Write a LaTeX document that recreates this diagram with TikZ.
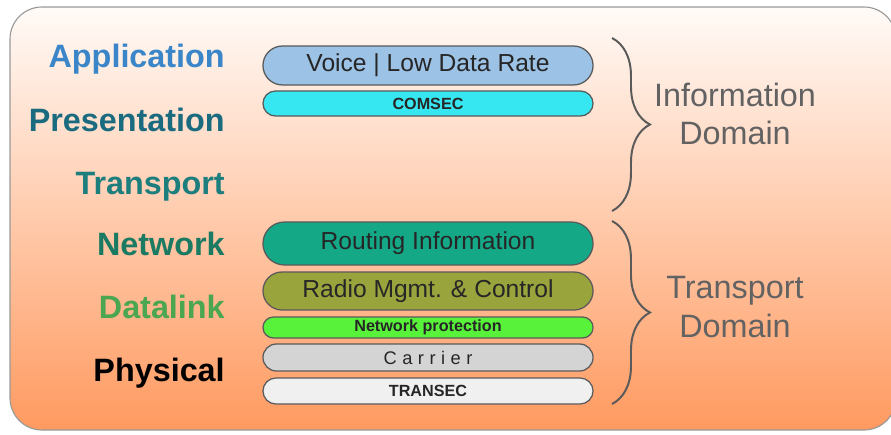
\documentclass[tikz,border=0pt]{standalone}
\usepackage{fontspec}
\setmainfont{Liberation Sans}
\usepackage{xcolor}
\usetikzlibrary{shapes.misc, decorations.pathreplacing, positioning}

\definecolor{bgtop}{HTML}{FFFBF8}
\definecolor{bgbot}{HTML}{FF9A60}
\definecolor{appblue}{HTML}{3A86C8}
\definecolor{presteal}{HTML}{1B6B80}
\definecolor{transteal}{HTML}{1D7E7E}
\definecolor{netgreen}{HTML}{1A7A62}
\definecolor{dlgreen}{HTML}{4AA650}
\definecolor{voicefill}{HTML}{9CC2E5}
\definecolor{comsecfill}{HTML}{36E6F0}
\definecolor{routefill}{HTML}{14A887}
\definecolor{radiofill}{HTML}{9AA43C}
\definecolor{protfill}{HTML}{58F23A}
\definecolor{carrierfill}{HTML}{D4D4D4}
\definecolor{transecfill}{HTML}{F0F0F0}
\definecolor{edgegray}{HTML}{5A5A5A}
\definecolor{domaingray}{HTML}{626262}

\tikzset{
  osilabel/.style={anchor=base east, inner sep=0pt, font=\fontsize{23}{27}\selectfont\bfseries},
  layerbox/.style={rounded rectangle, draw=edgegray, line width=0.9pt, minimum width=8.25cm,
    inner sep=0pt, text=black!85},
  bigtext/.style={font=\fontsize{17.5}{20}\selectfont},
  smalltext/.style={font=\fontsize{11.5}{13}\selectfont\bfseries},
  domainbrace/.style={decorate, decoration={brace, amplitude=27pt, aspect=0.5},
    draw=edgegray, line width=1.4pt},
  domaintext/.style={align=center, text=domaingray, font=\fontsize{23}{27.5}\selectfont}
}

\begin{document}
\begin{tikzpicture}[x=0.025cm, y=-0.025cm]
    \useasboundingbox (0,0) rectangle (891,434);

    % Background panel
    \begin{scope}
        \clip (0,0) rectangle (891,434);
        \shade[top color=bgtop, bottom color=bgbot, draw=gray!80, line width=0.8pt, rounded corners=0.8cm]
            (10,7) rectangle (896,430);
    \end{scope}

    % OSI layer names
    \node[osilabel, text=appblue] (app) at (225,67) {Application};
    \node[osilabel, text=presteal] (pres) at (225,131) {Presentation};
    \node[osilabel, text=transteal] (trans) at (225,194) {Transport};
    \node[osilabel, text=netgreen] (net) at (225,255) {Network};
    \node[osilabel, text=dlgreen] (dl) at (225,318) {Datalink};
    \node[osilabel, text=black] (phy) at (225,381) {Physical};

    % Information domain layers
    \node[layerbox, bigtext, fill=voicefill, minimum height=0.975cm] (voice) at (428,65.5) {Voice | Low Data Rate};
    \node[layerbox, smalltext, fill=comsecfill, minimum height=0.625cm] (comsec) at (428,103.5) {COMSEC};

    % Transport domain layers
    \node[layerbox, bigtext, fill=routefill, minimum height=1.075cm] (routing) at (428,243.5) {Routing Information};
    \node[layerbox, bigtext, fill=radiofill, minimum height=0.95cm] (radio) at (428,291) {Radio Mgmt. \& Control};
    \node[layerbox, smalltext, fill=protfill, minimum height=0.525cm] (netprot) at (428,327.5) {Network protection};
    \node[layerbox, fill=carrierfill, minimum height=0.675cm,
        font=\fontsize{13}{15}\selectfont\addfontfeature{LetterSpace=30}] (carrier) at (428,357.5) {Carrier};
    \node[layerbox, smalltext, fill=transecfill, minimum height=0.65cm] (transec) at (428,391) {TRANSEC};

    % Braces
    \coordinate (infotop) at (612,38);
    \coordinate (infobot) at (612,211);
    \coordinate (tranztop) at (612,221);
    \coordinate (tranzbot) at (612,404);
    \draw[domainbrace] (infotop) -- (infobot);
    \draw[domainbrace] (tranztop) -- (tranzbot);

    % Domain names
    \node[domaintext] (infodom) at (735,114) {Information\\Domain};
    \node[domaintext] (tranzdom) at (735,307) {Transport\\Domain};
\end{tikzpicture}
\end{document}
